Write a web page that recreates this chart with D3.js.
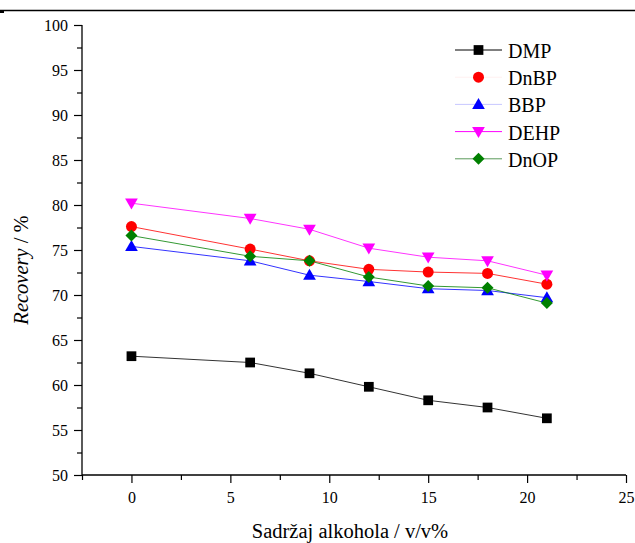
<!DOCTYPE html>
<html><head><meta charset="utf-8">
<script src="https://cdn.jsdelivr.net/npm/d3@7"></script>
</head><body style="margin:0"><svg id="c" width="635" height="543" font-family="Liberation Serif"></svg>
<script>
const xValues = [0, 6, 9, 12, 15, 18, 21];
const seriesNames = ["DMP", "DnBP", "BBP", "DEHP", "DnOP"];
const DMP  = [63.2, 62.5, 61.3, 59.8, 58.3, 57.5, 56.3];
const DnBP = [77.6, 75.1, 73.8, 72.85, 72.55, 72.4, 71.2];
const BBP  = [75.4, 73.8, 72.2, 71.5, 70.7, 70.5, 69.7];
const DEHP = [80.2, 78.5, 77.3, 75.2, 74.2, 73.8, 72.2];
const DnOP = [76.6, 74.3, 73.8, 72.0, 71.0, 70.8, 69.1];
const xTicks = [0, 5, 10, 15, 20, 25];
const yTicks = [50, 55, 60, 65, 70, 75, 80, 85, 90, 95, 100];
const xTitle = "Sadržaj alkohola / v/v%";

const FONT = "Liberation Serif";
const colors = {DMP:"#000000", DnBP:"#ff0000", BBP:"#0000ff", DEHP:"#ff00ff", DnOP:"#008000"};
const legendLine = {DMP:"#000000", DnBP:"#fff0f0", BBP:"#c8c8ff", DEHP:"#ff00ff", DnOP:"#5a9a5a"};
const symbols = {DMP:d3.symbolSquare, DnBP:d3.symbolCircle, BBP:d3.symbolTriangle, DEHP:d3.symbolTriangle, DnOP:d3.symbolSquare};
const sizes = {DMP:95, DnBP:95, BBP:70, DEHP:70, DnOP:72};
const rot = {DMP:0, DnBP:0, BBP:0, DEHP:180, DnOP:45};
const off = {DMP:0, DnBP:0, BBP:1, DEHP:-1, DnOP:0};
const data = {DMP, DnBP, BBP, DEHP, DnOP};

const svg = d3.select("#c");
const L = 82, R = 626, T = 25, B = 475;
const x = d3.scaleLinear().domain([-2.5, 25]).range([L, R]);
const y = d3.scaleLinear().domain([50, 100]).range([B, T]);

// top rule
svg.append("line").attr("x1",0).attr("x2",635).attr("y1",10.5).attr("y2",10.5).attr("stroke","#000").attr("stroke-width",1.3);
svg.append("rect").attr("x",0).attr("y",10).attr("width",4).attr("height",3).attr("fill","#000");

// axes
const xMinor = d3.range(-2.5, 25.01, 2.5).filter(v => Math.abs(v % 5) > 0.01);
const yMinor = d3.range(52.5, 100, 5);
const gx = svg.append("g").attr("transform",`translate(0,${B})`);
gx.call(d3.axisBottom(x).tickValues(xTicks).tickSize(8).tickPadding(9).tickFormat(d3.format("d")));
const gxm = svg.append("g").attr("transform",`translate(0,${B})`);
gxm.call(d3.axisBottom(x).tickValues(xMinor).tickSize(5).tickFormat(""));
gxm.select(".domain").remove();
const gy = svg.append("g").attr("transform",`translate(${L},0)`);
gy.call(d3.axisLeft(y).tickValues(yTicks).tickSize(8).tickPadding(6).tickFormat(d3.format("d")));
const gym = svg.append("g").attr("transform",`translate(${L},0)`);
gym.call(d3.axisLeft(y).tickValues(yMinor).tickSize(5).tickFormat(""));
gym.select(".domain").remove();
svg.selectAll("g").attr("font-family", FONT);
svg.selectAll(".domain").attr("stroke","#000").attr("stroke-width",1.3);
svg.selectAll(".tick line").attr("stroke","#000").attr("stroke-width",1.2);
svg.selectAll(".tick text").attr("font-family",FONT).attr("font-size",16).attr("fill","#000");
gx.select(".domain").attr("d",`M${L},0H${R}`);
gy.select(".domain").attr("d",`M0,${B}V${T}`);

// titles
svg.append("text").attr("x",350).attr("y",538).attr("text-anchor","middle").attr("font-family",FONT).attr("font-size",20.5).text(xTitle);
const yt = svg.append("text").attr("transform",`translate(28,270) rotate(-90)`).attr("text-anchor","middle").attr("font-family",FONT).attr("font-size",20.5);
yt.append("tspan").attr("font-style","italic").text("Recovery");
yt.append("tspan").text(" / %");

// series
const line = d3.line().x((d,i)=>x(xValues[i])).y(d=>y(d));
seriesNames.forEach(n => {
  svg.append("path").datum(data[n]).attr("d",line).attr("fill","none").attr("stroke",colors[n]).attr("stroke-width",1).attr("stroke-opacity",0.8);
});
seriesNames.forEach(n => {
  const sym = d3.symbol().type(symbols[n]).size(sizes[n]);
  svg.append("g").selectAll("path").data(data[n]).join("path")
    .attr("d", sym)
    .attr("transform",(d,i)=>`translate(${x(xValues[i])},${y(d)+off[n]}) rotate(${rot[n]})`)
    .attr("fill",colors[n]);
});

// legend
const lg = svg.append("g").attr("font-family",FONT);
seriesNames.forEach((n,i) => {
  const cy = 50 + i*27.2;
  lg.append("line").attr("x1",455).attr("x2",502).attr("y1",cy).attr("y2",cy).attr("stroke",legendLine[n]).attr("stroke-width",1);
  lg.append("path").attr("d",d3.symbol().type(symbols[n]).size(sizes[n])()).attr("transform",`translate(478.5,${cy+off[n]}) rotate(${rot[n]})`).attr("fill",colors[n]);
  lg.append("text").attr("x",508).attr("y",cy+8).attr("font-family",FONT).attr("font-size",20).text(n);
});
</script></body></html>
